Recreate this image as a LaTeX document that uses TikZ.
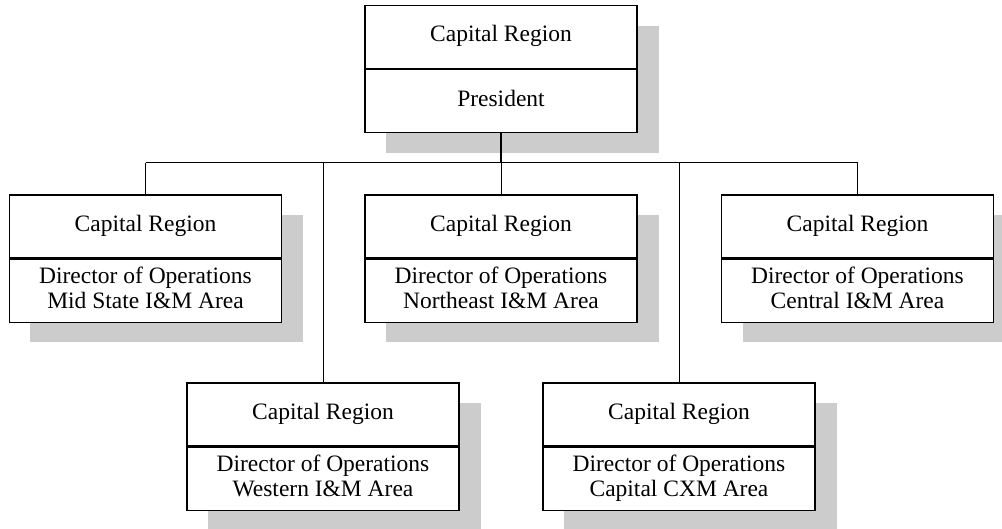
\documentclass[tikz,border=0pt]{standalone}
\usepackage{fontspec}
\setmainfont{Liberation Serif}
\definecolor{shadowgray}{RGB}{204,204,204}
\begin{document}
\begin{tikzpicture}[x=1pt,y=-1pt,
  sect/.style={draw=black,line width=1.2pt,fill=white,minimum width=272pt,minimum height=63pt,inner sep=0pt,align=center,font=\fontsize{23.5}{25}\selectfont},
  link/.style={draw=black,line width=1pt},
  trunk/.style={draw=black,line width=2pt},
  shade/.style={fill=shadowgray,draw=none}]
\useasboundingbox (0,0) rectangle (1002,529);
\clip (0,0) rectangle (1002,529);
% shadows
\fill[shade] (386,26) rectangle (659,153);
\fill[shade] (30,215) rectangle (303,342);
\fill[shade] (386,215) rectangle (659,342);
\fill[shade] (743,215) rectangle (1016,342);
\fill[shade] (208,403) rectangle (481,530);
\fill[shade] (564,403) rectangle (837,530);
% top box
\node[sect] (pt) at (501,37) {\strut Capital Region};
\node[sect,anchor=north] (pb) at (pt.south) {\strut President};
% middle row
\node[sect] (at) at (145.5,226.5) {\strut Capital Region};
\node[sect,anchor=north] (ab) at (at.south) {\strut Director of Operations\\\strut Mid State I\&M Area};
\node[sect] (bt) at (501,226.5) {\strut Capital Region};
\node[sect,anchor=north] (bb) at (bt.south) {\strut Director of Operations\\\strut Northeast I\&M Area};
\node[sect] (ct) at (857.5,226.5) {\strut Capital Region};
\node[sect,anchor=north] (cb) at (ct.south) {\strut Director of Operations\\\strut Central I\&M Area};
% bottom row
\node[sect] (dt) at (323,414.5) {\strut Capital Region};
\node[sect,anchor=north] (db) at (dt.south) {\strut Director of Operations\\\strut Western I\&M Area};
\node[sect] (et) at (679,414.5) {\strut Capital Region};
\node[sect,anchor=north] (eb) at (et.south) {\strut Director of Operations\\\strut Capital CXM Area};
% connectors
\coordinate (hub) at (501,163);
\coordinate (hl) at (145.5,163);
\coordinate (hr) at (857.5,163);
\draw[trunk] (pb.south) -- (hub);
\draw[link] (hl) -- (hr);
\draw[link] (hl) -- (at.north);
\draw[link] (hub) -- (bt.north);
\draw[link] (hr) -- (ct.north);
\draw[link] (dt.north |- hub) -- (dt.north);
\draw[link] (et.north |- hub) -- (et.north);
\end{tikzpicture}
\end{document}
